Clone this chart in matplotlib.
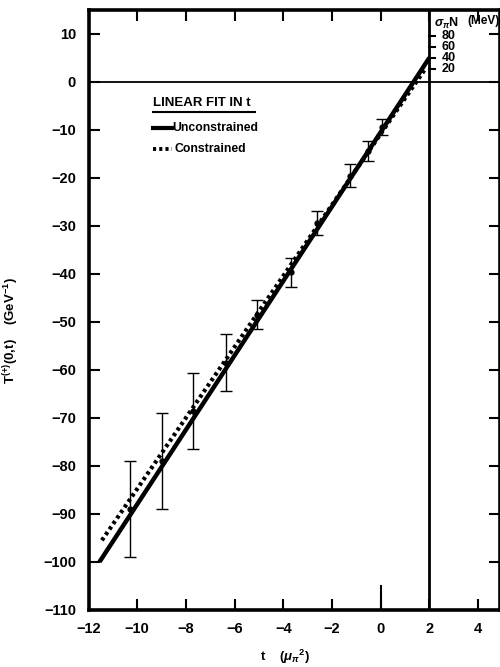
import matplotlib
matplotlib.use("Agg")
import matplotlib.pyplot as plt
import numpy as np

# ---- data ----
t_data = [-10.3, -9.0, -7.7, -6.35, -5.1, -3.7, -2.6, -1.25, -0.53, 0.06]
T_data = [-89.0, -79.0, -68.5, -58.5, -48.5, -39.7, -29.5, -19.6, -14.4, -9.5]
T_err = [10.0, 10.0, 7.9, 6.0, 3.0, 3.0, 2.5, 2.4, 2.1, 1.7]

unc_t = [-11.55, 2.0]
unc_T = [-100.0, 5.0]
con_t = [-11.45, 1.82]
con_T = [-95.5, 2.6]

x_ticks = [-12, -10, -8, -6, -4, -2, 0, 2, 4]
y_ticks = [-110, -100, -90, -80, -70, -60, -50, -40, -30, -20, -10, 0, 10]
sigma_ticks = [20, 40, 60, 80]
# sigma_piN scale drawn along t = 2 : T = a + b * sigma
sigma_a, sigma_b = 0.4, 0.115

plt.rcParams['font.family'] = ['Liberation Sans', 'DejaVu Sans']
plt.rcParams['font.weight'] = 'bold'
plt.rcParams['mathtext.fontset'] = 'custom'
plt.rcParams['mathtext.rm'] = 'Liberation Sans:bold'
plt.rcParams['mathtext.it'] = 'Liberation Sans:italic:bold'

fig = plt.figure(figsize=(5.0, 6.67), dpi=100)
ax = fig.add_axes([0.177, 0.0855, 0.823, 0.9])
ax.set_xlim(-12, 4.9)
ax.set_ylim(-110, 15)

for s in ax.spines.values():
    s.set_linewidth(2.6)

ax.set_xticks(x_ticks)
ax.set_yticks(y_ticks)
ax.tick_params(axis='both', direction='in', length=8, width=1.5,
               top=True, right=True, labelsize=10.5)
ax.tick_params(axis='x', pad=9)
ax.tick_params(axis='y', pad=9)
for lab in ax.get_xticklabels() + ax.get_yticklabels():
    lab.set_fontweight('bold')

# reference lines
ax.axhline(0, color='black', lw=1.3)
ax.axvline(2, color='black', lw=2.0)
ax.axvline(0, ymin=0, ymax=0.04, color='black', lw=1.5)

# fits
ax.plot(unc_t, unc_T, color='black', lw=3.2, solid_capstyle='butt',
        label='Unconstrained')
ax.plot(con_t, con_T, color='black', lw=3.0, linestyle=(0, (0.8, 0.8)),
        label='Constrained')

# data points
ax.errorbar(t_data, T_data, yerr=T_err, fmt='o', color='black', ms=3.5,
            elinewidth=1.0, capsize=4, capthick=1.0)

# sigma_piN scale
for sv in sigma_ticks:
    yv = sigma_a + sigma_b * sv
    ax.plot([2.0, 2.22], [yv, yv], color='black', lw=1.5)
    ax.text(2.5, yv, str(sv), fontsize=9, fontweight='bold',
            va='center', ha='left')
ax.text(2.2, 12.2, r'$\sigma_{\pi}$N', fontsize=9, va='center', ha='left')
ax.text(3.55, 12.6, '(MeV)', fontsize=8.5, fontweight='bold', va='center', ha='left')

# legend (hand-built, as in the original)
ax.text(-9.36, -4.5, 'LINEAR FIT IN t', fontsize=9.5, fontweight='bold',
        va='center', ha='left')
ax.plot([-9.36, -5.17], [-6.4, -6.4], color='black', lw=1.5)
ax.plot([-9.36, -8.56], [-9.6, -9.6], color='black', lw=3.0)
ax.text(-8.56, -9.6, 'Unconstrained', fontsize=8.8, va='center', ha='left')
ax.plot([-9.36, -8.56], [-14.0, -14.0], color='black', lw=2.8,
        linestyle=(0, (0.8, 0.8)))
ax.text(-8.45, -14.0, 'Constrained', fontsize=8.8, va='center', ha='left')

ax.set_xlabel(r't    ($\mu_{\pi}$$^2$)', fontsize=9.5, fontweight='bold')
ax.xaxis.set_label_coords(0.478, -0.063)
ax.set_ylabel(r'T$^{(+)}$(0,t)    (GeV$^{-1}$)', fontsize=9.5, fontweight='bold')
ax.yaxis.set_label_coords(-0.163, 0.465)

fig.savefig('out.png', dpi=100)
